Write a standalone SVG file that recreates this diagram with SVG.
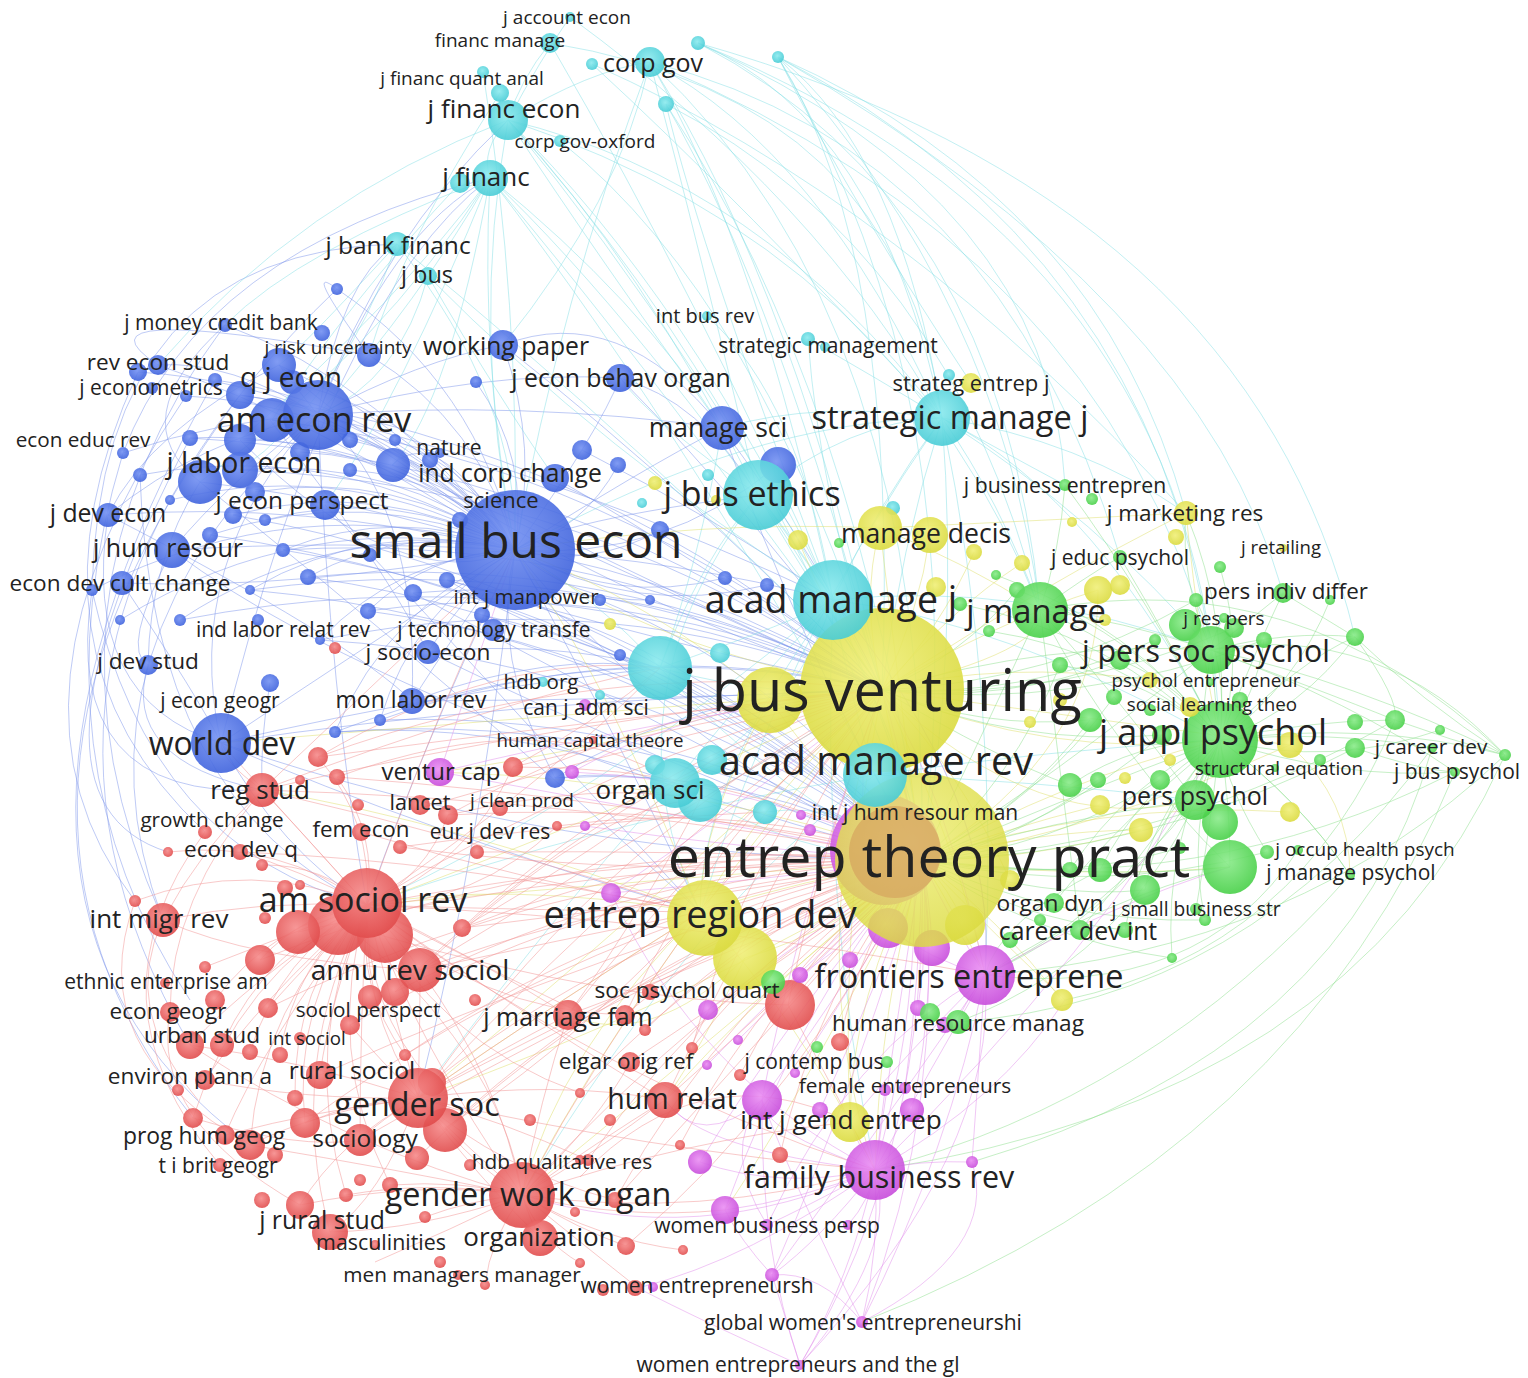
<svg xmlns="http://www.w3.org/2000/svg" width="1528" height="1378" viewBox="0 0 1528 1378">
<defs>
<radialGradient id="gb" cx="45%" cy="40%" r="62%"><stop offset="0" stop-color="#7391f2"/><stop offset="1" stop-color="#3d61dc"/></radialGradient>
<radialGradient id="gc" cx="45%" cy="40%" r="62%"><stop offset="0" stop-color="#8beaee"/><stop offset="1" stop-color="#46cbd5"/></radialGradient>
<radialGradient id="gy" cx="45%" cy="40%" r="62%"><stop offset="0" stop-color="#f0ef78"/><stop offset="1" stop-color="#dada3e"/></radialGradient>
<radialGradient id="gg" cx="45%" cy="40%" r="62%"><stop offset="0" stop-color="#8aeb8a"/><stop offset="1" stop-color="#46cf46"/></radialGradient>
<radialGradient id="gr" cx="45%" cy="40%" r="62%"><stop offset="0" stop-color="#f68b8b"/><stop offset="1" stop-color="#e04a4a"/></radialGradient>
<radialGradient id="gm" cx="45%" cy="40%" r="62%"><stop offset="0" stop-color="#ea8ef3"/><stop offset="1" stop-color="#c64ada"/></radialGradient>
</defs>
<style>
.b{fill:url(#gb)}.c{fill:url(#gc)}.y{fill:url(#gy)}.g{fill:url(#gg)}.r{fill:url(#gr)}.m{fill:url(#gm)}
circle{opacity:.9}
.t{font-family:'Open Sans','Liberation Sans',sans-serif;fill:#222;text-anchor:middle;transform:translate(0,2px)}
.e{fill:none;stroke-width:1;stroke-opacity:.5}
.eb{stroke:#7d96ec}.ec{stroke:#86dfe6}.ey{stroke:#e0e06c}.eg{stroke:#8ddf8d}.er{stroke:#f19393}.em{stroke:#e18feb}
</style>
<rect width="1528" height="1378" fill="#fff"/>
<g id="connectors">
<path class="e eb" d="M515 550Q410 460 318 415M515 550Q360 500 200 482M515 550Q360 650 221 743M515 550Q420 430 279 365M515 550Q540 450 503 345M515 550Q600 430 620 378M515 550Q640 470 722 428M515 550Q700 580 882 690M515 550Q680 760 922 860M515 550Q680 560 833 600M515 550Q420 750 367 905M515 550Q300 500 108 515M515 550Q300 590 122 583M515 550Q330 540 172 550M515 550Q380 380 225 325M515 550Q320 420 158 365M515 550Q450 640 412 701M515 550Q460 600 428 652M515 550Q630 760 700 912M515 550Q480 850 418 1098M515 550Q560 520 758 495M515 550Q440 420 392 465"/>
<path class="e eb" d="M318 415Q180 560 221 743M318 415Q200 440 108 515M318 415Q230 480 172 550M318 415Q290 380 279 365M318 415Q230 360 158 365M318 415Q420 360 503 345M318 415Q390 230 490 178M318 415Q340 280 397 244M318 415Q220 420 123 453M318 415Q480 370 620 378M318 415Q520 400 722 428M318 415Q580 480 833 600M318 415Q600 560 882 690M318 415Q330 700 367 905M318 415Q60 650 163 920M318 415Q420 500 412 701M318 415Q380 240 508 120"/>
<path class="e eb" d="M225 325Q20 600 163 920M138 372Q10 650 205 832M123 453Q30 760 190 1000M337 289Q-40 650 190 1045M158 365Q60 300 369 355M92 590Q60 800 262 790M108 515Q80 700 221 743M148 665Q120 760 262 790M122 583Q200 700 221 743M172 550Q120 650 148 665M200 482Q150 560 148 665M225 325Q120 420 200 482M279 365Q150 430 108 515M369 355Q300 260 337 289M270 683Q260 740 262 790M221 743Q280 850 367 905M221 743Q420 830 700 912M221 743Q500 700 882 690M221 743Q560 860 922 860M221 743Q330 300 490 178M186 396Q-20 700 135 901M190 438Q0 800 168 852M240 395Q-60 800 193 1118M215 380Q-80 900 250 1145M140 475Q150 800 367 905M92 590Q150 850 367 905M92 590Q100 250 397 244M123 453Q200 250 490 178"/>
<path class="e eb" d="M392 465Q600 560 882 690M555 478Q700 560 882 690M582 450Q720 520 833 600M413 593Q650 720 922 860M447 580Q650 640 882 690M428 652Q650 760 922 860M412 701Q650 700 882 690M503 345Q700 500 882 690M620 378Q760 520 882 690M722 428Q820 560 882 690M722 428Q800 650 922 860M200 482Q450 680 700 912M620 378Q700 400 758 495M503 345Q620 300 722 428M240 440Q400 600 515 550M270 420Q380 560 428 652M325 505Q450 640 700 912M172 550Q400 720 922 860M108 515Q350 640 412 701M279 365Q500 560 882 690M412 701Q550 650 660 668M428 652Q550 640 660 668M335 732Q500 720 675 783M555 778Q620 770 675 783M221 743Q450 690 660 668M447 580Q550 640 660 668"/>
<path class="e eb" d="M337 289Q478 384 515 550M369 355Q481 423 515 550M138 372Q363 386 515 550M186 396Q382 407 515 550M240 395Q409 418 515 550M292 382Q438 421 515 550M272 420Q420 436 515 550M240 440Q400 440 515 550M190 438Q375 429 515 550M140 475Q343 438 515 550M240 470Q394 455 515 550M255 492Q397 469 515 550M233 515Q381 477 515 550M210 535Q366 482 515 550M92 590Q296 485 515 550M283 550Q399 504 515 550M308 577Q406 523 515 550M368 611Q430 552 515 550M320 640Q400 556 515 550M335 732Q389 605 515 550M250 590Q375 517 515 550M120 620Q304 506 515 550M180 620Q334 518 515 550M380 720Q414 608 515 550M265 520Q396 485 515 550M170 500Q353 456 515 550M215 380Q399 405 515 550M300 452Q428 458 515 550M350 440Q455 462 515 550M350 470Q449 477 515 550M395 440Q477 471 515 550M476 382Q530 458 515 550M618 465Q584 529 515 550M660 530Q592 569 515 550M650 600Q573 602 515 550M620 655Q547 624 515 550M725 578Q614 606 515 550M767 585Q634 618 515 550M778 465Q664 561 515 550M555 778Q489 656 515 550"/>
<path class="e eb" d="M240 395Q605 447 882 690M272 420Q618 464 882 690M240 470Q594 484 882 690M190 438Q574 460 882 690M283 550Q604 530 882 690M308 577Q612 548 882 690M368 611Q637 574 882 690M413 593Q662 572 882 690M320 640Q609 581 882 690M250 590Q581 545 882 690M180 620Q542 550 882 690M380 720Q627 630 882 690M335 732Q603 629 882 690M555 778Q706 685 882 690M283 550Q649 609 922 860M308 577Q657 627 922 860M368 611Q682 653 922 860M320 640Q654 660 922 860M380 720Q672 709 922 860M335 732Q648 708 922 860M250 590Q627 624 922 860M210 535Q615 591 922 860M233 515Q630 585 922 860M555 778Q751 764 922 860M447 580Q727 649 922 860M482 615Q739 672 922 860M620 655Q802 713 922 860M600 600Q800 682 922 860"/>
<path class="e ec" d="M508 120Q470 330 515 550M508 120Q760 180 942 418M508 120Q690 300 833 600M508 120Q700 350 882 690M508 120Q780 420 922 860M508 120Q640 260 758 495M508 120Q600 260 722 428M508 120Q590 70 650 62M508 120Q480 150 490 178M508 120Q520 80 550 43M508 120Q540 60 570 17M650 62Q820 150 942 418M650 62Q760 250 833 600M650 62Q800 300 882 690M650 62Q930 320 922 860M650 62Q560 300 515 550M650 62Q700 250 758 495M650 62Q620 200 503 345M698 43Q880 120 942 418M698 43Q1000 200 1040 610M698 43Q1200 250 1220 740M778 57Q900 150 942 418M778 57Q1150 250 1211 650M778 57Q900 250 882 690M778 57Q1000 300 1040 610M778 57Q980 400 922 860M666 104Q780 300 882 690M666 104Q860 400 922 860M666 104Q700 250 833 600"/>
<path class="e ec" d="M490 178Q480 360 515 550M490 178Q640 300 722 428M490 178Q640 320 833 600M490 178Q660 380 882 690M490 178Q700 450 922 860M490 178Q420 300 318 415M397 244Q520 400 515 550M397 244Q650 450 882 690M428 276Q600 450 833 600M560 141Q760 300 882 690M592 64Q740 200 942 418M707 316Q800 400 833 600M808 339Q880 380 942 418M808 339Q820 500 882 690M550 43Q700 300 833 600M570 17Q820 200 942 418M483 72Q520 300 515 550M778 57Q1100 200 1186 513M778 57Q1200 300 1283 593M698 43Q1050 200 1065 485M650 62Q1000 150 1120 557M698 43Q1250 200 1355 637M778 57Q850 200 971 383M666 104Q950 250 1040 610M592 64Q900 200 1186 513M550 43Q900 100 942 418M650 62Q1100 250 1211 650M508 120Q900 250 1040 610M490 178Q400 300 240 440M490 178Q380 350 200 482M490 178Q400 400 325 505M490 178Q450 400 393 465M397 244Q300 350 279 365M397 244Q340 400 240 470M428 276Q400 380 318 415M428 276Q500 400 555 478M490 178Q300 250 225 325M508 120Q300 200 158 365M460 183Q350 300 272 420M500 93Q400 250 369 355"/>
<path class="e ec" d="M942 418Q880 500 833 600M942 418Q900 550 882 690M942 418Q960 650 922 860M942 418Q1000 500 1040 610M942 418Q1100 500 1220 740M942 418Q1100 520 1211 650M942 418Q850 420 758 495M942 418Q820 400 722 428M942 418Q750 420 515 550M942 418Q1080 440 1186 513M942 418Q1000 450 1065 485M942 418Q780 650 700 912M942 418Q1000 700 985 975M833 600Q1000 620 1220 740M833 600Q1020 580 1211 650M833 600Q850 700 875 775M833 600Q900 750 922 860M833 600Q1000 800 985 975M833 600Q780 520 758 495M833 600Q740 700 675 783M833 600Q820 900 875 1170M833 600Q700 780 700 912M833 600Q600 800 367 905M758 495Q820 600 882 690M758 495Q900 700 922 860M758 495Q600 700 700 912M875 775Q1050 750 1220 740M875 775Q1030 780 1195 800M875 775Q900 820 922 860M875 775Q700 900 522 1195M875 775Q600 820 367 905M660 668Q780 700 882 690M660 668Q780 800 922 860M675 783Q800 860 922 860M675 783Q580 880 418 1098M700 800Q800 740 882 690M758 495Q650 420 620 378M758 495Q700 560 660 668M722 428Q700 560 660 668M660 668Q600 600 515 550M660 668Q800 620 833 600M712 760Q800 700 833 600M765 812Q850 800 922 860"/>
<path class="e ey" d="M882 690Q900 780 922 860M882 690Q860 600 880 528M882 690Q760 800 700 912M882 690Q1050 580 1186 513M882 690Q1000 620 1098 590M882 690Q1100 720 1290 745M882 690Q960 850 985 975M882 690Q840 900 850 1122M882 690Q800 950 875 1170M882 690Q600 820 367 905M882 690Q600 950 418 1098M882 690Q500 720 221 743M882 690Q650 650 515 550M882 690Q650 950 522 1195M882 690Q1050 650 1040 610M882 690Q1050 760 1220 740M882 690Q1040 840 1195 800M930 535Q920 610 882 690M798 540Q830 620 882 690M974 552Q940 630 882 690M1022 563Q950 610 882 690M1010 880Q960 770 882 690M1150 680Q1000 660 882 690M770 700Q700 820 700 912M770 700Q650 600 515 550M770 700Q600 750 440 772M745 958Q650 1050 568 1015M745 958Q700 1050 665 1100"/>
<path class="e ey" d="M922 860Q800 880 700 912M922 860Q960 920 985 975M922 860Q880 1000 875 1170M922 860Q850 1000 850 1122M922 860Q700 1050 522 1195M922 860Q650 880 367 905M922 860Q750 1000 665 1100M922 860Q1000 940 1065 1000M922 860Q1100 800 1290 812M922 860Q1040 830 1141 830M922 860Q1060 780 1220 740M922 860Q800 1100 725 1210M922 860Q700 1000 418 1098M922 860Q1080 880 1230 867M922 860Q700 780 440 772M700 912Q500 880 367 905M700 912Q450 820 262 790M700 912Q560 1000 418 1098M700 912Q620 700 515 550M700 912Q560 1050 522 1195M700 912Q800 1020 875 1170M880 528Q960 560 1040 610M880 528Q1050 520 1186 513M880 528Q700 520 515 550M880 528Q900 700 922 860M1186 513Q1200 650 1220 740M1098 590Q1100 750 922 860M1290 745Q1350 800 1350 875M1141 830Q1030 860 922 860M1100 805Q1000 830 922 860M1290 745Q1100 830 922 860M1062 1000Q1000 920 922 860M965 925Q950 890 922 860M745 958Q840 930 922 860M770 700Q840 800 922 860"/>
<path class="e eg" d="M1220 740Q1215 700 1211 650M1220 740Q1140 650 1040 610M1220 740Q1060 800 922 860M1220 740Q1200 780 1195 800M1220 740Q1370 720 1505 755M1220 740Q1330 730 1432 748M1220 740Q1340 780 1455 772M1220 740Q1300 660 1355 637M1220 740Q1310 720 1395 720M1220 740Q1230 800 1230 867M1220 740Q1300 800 1350 875M1220 740Q1260 640 1283 593M1220 740Q1230 620 1186 513M1220 740Q1170 640 1120 557M1220 740Q1150 600 1065 485M1220 740Q1150 900 985 975M1220 740Q1150 850 1080 930M1220 740Q1120 820 1054 903M1220 740Q1210 830 1196 909M1220 740Q1150 950 958 1022"/>
<path class="e eg" d="M1211 650Q1120 620 1040 610M1211 650Q1050 640 882 690M1211 650Q1050 780 922 860M1211 650Q1250 620 1283 593M1211 650Q1290 630 1355 637M1211 650Q1215 630 1224 618M1211 650Q1200 730 1195 800M1211 650Q1180 580 1186 513M1211 650Q1350 680 1505 755M1211 650Q1320 690 1395 720M1040 610Q1120 700 1195 800M1040 610Q1120 760 1230 867M1040 610Q1060 770 1080 930M1040 610Q980 740 922 860M1040 610Q1060 550 1065 485M1040 610Q1080 580 1120 557M1505 755Q1300 560 1040 610M1505 755Q1300 950 985 975M1505 755Q1380 620 1211 650M1455 772Q1200 900 922 860M1455 772Q1350 700 1211 650M1395 720Q1300 950 1065 1000M1432 748Q1250 1000 958 1022M1350 875Q1150 1100 875 1170M1350 875Q1300 800 1220 740M1355 637Q1420 700 1505 755M1355 637Q1400 700 1395 720M1283 593Q1360 640 1355 637M1230 867Q1100 900 985 975M1230 867Q1120 880 922 860M1195 800Q1050 820 922 860M1195 800Q1100 920 985 975M1145 890Q1050 900 922 860M1100 870Q1000 920 985 975M1070 785Q1000 760 882 690M1098 780Q1000 850 922 860M1355 748Q1420 770 1455 772M1395 720Q1450 740 1505 755M1505 755Q1350 1100 875 1170M1455 772Q1300 1150 862 1322M1432 748Q1350 1050 972 1162M1298 850Q1200 1000 985 975"/>
<path class="e eg" d="M1017 590Q1141 635 1220 740M960 604Q1110 633 1220 740M989 631Q1121 651 1220 740M1196 600Q1229 666 1220 740M1220 567Q1246 654 1220 740M1355 637Q1303 709 1220 740M1264 640Q1257 697 1220 740M1145 890Q1160 804 1220 740M1100 870Q1141 787 1220 740M1070 785Q1138 740 1220 740M1205 920Q1186 828 1220 740M1172 958Q1163 842 1220 740M1267 852Q1227 789 1220 740M1120 660Q1182 685 1220 740M1070 870Q1126 783 1220 740M1125 930Q1144 821 1220 740M1330 600Q1296 686 1220 740M1440 730Q1332 768 1220 740M1060 665Q1151 679 1220 740M996 575Q1133 624 1220 740M1205 920Q1057 924 922 860M1172 958Q1035 939 922 860M1125 930Q1016 919 922 860M1267 852Q1096 897 922 860M1180 848Q1052 885 922 860M1160 780Q1051 849 922 860M1090 720Q1023 810 922 860M1060 665Q1014 780 922 860M1114 697Q1038 802 922 860M1162 735Q1057 827 922 860M1355 748Q1152 856 922 860M1395 720Q1176 847 922 860M1017 590Q962 656 882 690M1090 720Q982 730 882 690M1120 660Q1005 704 882 690M1155 640Q1025 698 882 690M1196 600Q1050 683 882 690M1234 628Q1065 701 882 690M1264 640Q1079 711 882 690M1162 735Q1017 747 882 690"/>
<path class="e em" d="M875 1170Q930 1070 985 975M875 1170Q900 1000 922 860M875 1170Q860 1150 850 1122M875 1170Q800 1210 767 1225M875 1170Q820 1240 772 1275M875 1170Q880 1250 862 1322M875 1170Q850 1280 800 1365M875 1170Q920 1160 972 1162M875 1170Q950 900 882 690M875 1170Q800 1200 725 1210M875 1170Q760 1130 762 1100M875 1170Q700 1150 665 1100M875 1170Q700 1250 522 1195M875 1170Q1000 1100 1065 1000M875 1170Q1100 950 1220 740M875 1170Q750 1260 638 1288M862 1322Q800 1200 762 1100M862 1322Q950 1150 985 975M862 1322Q950 1100 922 860M862 1322Q1000 1250 972 1162M862 1322Q820 1270 772 1275M800 1365Q900 1250 875 1170M800 1365Q760 1250 762 1100M800 1365Q930 1150 922 860M800 1365Q1000 1150 985 975M800 1365Q780 1300 772 1275M800 1365Q700 1320 638 1288M772 1275Q870 1050 922 860M772 1275Q900 1100 985 975M772 1275Q740 1240 725 1210M767 1225Q720 1150 762 1100"/>
<path class="e em" d="M985 975Q950 920 922 860M985 975Q950 800 882 690M985 975Q1000 800 833 600M985 975Q1120 900 1230 867M985 975Q930 960 888 928M985 975Q960 1010 958 1022M985 975Q900 1060 850 1122M888 928Q900 890 922 860M888 928Q840 800 882 690M932 948Q930 900 922 860M762 1100Q850 980 922 860M762 1100Q700 1150 665 1100M762 1100Q800 900 882 690M440 772Q700 820 922 860M440 772Q650 720 882 690M440 772Q480 650 515 550M611 893Q760 880 922 860M708 1010Q800 940 922 860M725 1210Q800 1000 922 860M700 1162Q800 1000 922 860M972 1162Q980 1050 985 975M905 1088Q920 980 922 860M767 1225Q850 1050 985 975M611 893Q700 1080 875 1170M800 975Q870 930 922 860M918 1008Q930 930 922 860M912 1110Q940 980 922 860M820 1110Q880 980 922 860M700 1162Q780 1190 875 1170M885 1090Q880 1130 875 1170M848 1225Q870 1200 875 1170M707 1065Q820 950 922 860M738 1040Q840 940 922 860M795 1073Q870 960 922 860M611 893Q750 800 882 690M572 772Q750 780 922 860M585 826Q750 850 922 860M572 772Q700 700 882 690"/>
<path class="e er" d="M367 905Q390 1000 418 1098M367 905Q400 940 420 970M367 905Q420 1050 522 1195M367 905Q260 900 163 920M367 905Q300 830 262 790M367 905Q300 870 240 852M367 905Q650 850 922 860M367 905Q600 760 882 690M367 905Q520 910 700 912M367 905Q500 1000 665 1100M367 905Q480 960 568 1015M367 905Q600 1080 875 1170M367 905Q700 920 985 975M367 905Q250 980 190 1045M367 905Q260 1050 225 1135M367 905Q360 1020 360 1140M367 905Q330 1000 320 1075M367 905Q260 1000 205 1080M367 905Q290 820 221 743M367 905Q440 700 515 550M418 1098Q470 1150 522 1195M418 1098Q480 1180 540 1238M418 1098Q340 1140 300 1205M418 1098Q560 1080 665 1100M418 1098Q420 1030 420 970M418 1098Q320 1110 250 1145M418 1098Q300 1100 205 1080M418 1098Q700 950 922 860M418 1098Q650 850 882 690M418 1098Q650 1150 875 1170M418 1098Q500 1050 568 1015M418 1098Q560 1000 700 912M418 1098Q380 1120 360 1140"/>
<path class="e er" d="M522 1195Q530 1220 540 1238M522 1195Q600 1140 665 1100M522 1195Q700 1220 875 1170M522 1195Q680 1140 850 1122M522 1195Q590 1250 638 1288M522 1195Q490 1240 485 1285M522 1195Q420 1230 330 1232M522 1195Q620 1220 725 1210M522 1195Q600 1050 700 912M522 1195Q700 1000 922 860M522 1195Q540 1100 568 1015M522 1195Q450 1230 375 1262M522 1195Q600 1120 630 1062M262 790Q221 760 221 743M262 790Q480 840 700 912M262 790Q400 660 515 550M262 790Q200 850 163 920M262 790Q170 900 170 1012M262 790Q600 800 922 860M262 790Q560 720 882 690M163 920Q120 1010 198 1100M135 901Q80 1050 250 1145M170 1012Q150 1120 300 1205M205 832Q80 1000 220 1165M163 920Q250 960 420 970M190 1045Q300 1060 418 1098M225 1135Q320 1110 418 1098M300 1205Q420 1180 522 1195M330 1232Q380 1200 418 1098"/>
<path class="e er" d="M420 970Q600 900 922 860M420 970Q650 830 882 690M420 970Q560 940 700 912M420 970Q500 1080 522 1195M568 1015Q750 950 922 860M568 1015Q700 850 882 690M665 1100Q800 980 922 860M665 1100Q760 900 882 690M665 1100Q600 1150 522 1195M788 1005Q850 930 922 860M788 1005Q820 850 882 690M788 1005Q840 1100 875 1170M630 1062Q800 950 922 860M575 1010Q450 950 367 905M448 815Q700 800 922 860M420 808Q650 740 882 690M477 852Q700 850 922 860M513 767Q700 720 882 690M400 847Q650 880 922 860M318 757Q600 720 882 690M337 777Q650 800 922 860M462 928Q700 900 922 860M615 1200Q750 1050 922 860M626 1246Q800 1100 922 860M580 1177Q700 1050 850 1122M361 832Q520 880 700 912M240 852Q450 860 700 912M298 932Q600 860 922 860M340 920Q500 1050 522 1195M190 1045Q350 1150 522 1195M250 1145Q400 1170 522 1195M360 1140Q600 1000 922 860M320 1075Q600 950 922 860M205 967Q300 930 367 905M268 1008Q320 950 367 905M350 1025Q380 1060 418 1098M445 1128Q480 1170 522 1195M305 1123Q360 1100 418 1098M193 1118Q300 1150 360 1140M380 935Q600 1000 788 1005M445 1128Q650 1000 882 690"/>
<path class="e er" d="M168 852Q279 839 367 905M262 865Q323 864 367 905M135 901Q252 857 367 905M260 960Q303 912 367 905M215 1000Q272 923 367 905M222 1045Q267 946 367 905M250 1052Q280 956 367 905M280 1055Q294 963 367 905M405 1055Q356 988 367 905M432 1082Q365 1007 367 905M445 1130Q361 1034 367 905M305 1123Q292 1002 367 905M193 1118Q237 977 367 905M250 1145Q261 1002 367 905M295 1098Q292 988 367 905M318 757Q373 821 367 905M337 777Q378 835 367 905M448 815Q426 876 367 905M513 767Q468 865 367 905M557 826Q478 904 367 905M580 1093Q436 1042 367 905M625 1015Q474 1012 367 905M346 1195Q299 1046 367 905M390 1185Q323 1050 367 905M330 1232Q284 1062 367 905M318 757Q500 650 660 668M337 777Q550 700 675 783M448 815Q600 780 700 800M400 847Q600 820 765 812M462 928Q600 850 712 760M367 905Q550 780 660 668M420 970Q600 800 700 800M262 790Q500 700 660 668M568 1015Q650 900 700 800M513 767Q600 720 660 668"/>
<path class="e er" d="M395 992Q643 863 922 860M462 928Q684 839 922 860M350 1025Q616 874 922 860M405 1055Q641 896 922 860M432 1082Q650 912 922 860M445 1130Q652 938 922 860M580 1093Q723 936 922 860M625 1015Q755 902 922 860M645 1030Q764 912 922 860M692 1048Q784 926 922 860M588 1160Q719 970 922 860M680 1145Q767 974 922 860M740 1075Q805 946 922 860M840 1042Q859 941 922 860M780 1155Q816 991 922 860M557 826Q744 799 922 860M513 767Q729 765 922 860M268 1008Q577 856 922 860M305 1123Q582 918 922 860M260 960Q579 831 922 860M417 1158Q634 948 922 860M615 1200Q728 993 922 860M395 992Q603 783 882 690M318 757Q592 656 882 690M448 815Q650 701 882 690M462 928Q643 759 882 690M432 1082Q610 832 882 690M625 1015Q715 822 882 690M692 1048Q744 846 882 690M626 1246Q580 1230 522 1195M580 1263Q540 1240 522 1195M683 1250Q600 1240 522 1195M425 1217Q470 1200 522 1195M346 1195Q430 1180 522 1195M390 1185Q460 1180 522 1195M615 1200Q500 1170 418 1098M588 1160Q500 1120 418 1098"/>
</g>
<g id="minor-nodes">
<circle id="u1" class="c" cx="500" cy="93" r="9"/><circle id="u2" class="c" cx="592" cy="64" r="6"/><circle id="u3" class="c" cx="698" cy="43" r="7"/><circle id="u4" class="c" cx="778" cy="57" r="6"/><circle id="u5" class="c" cx="666" cy="104" r="8"/><circle id="u6" class="c" cx="460" cy="183" r="10"/><circle id="u7" class="c" cx="825" cy="347" r="5"/><circle id="u8" class="c" cx="949" cy="375" r="6"/><circle id="u9" class="c" cx="893" cy="508" r="7"/><circle id="u10" class="c" cx="708" cy="475" r="6"/><circle id="u11" class="c" cx="660" cy="668" r="32"/><circle id="u12" class="c" cx="720" cy="653" r="10"/><circle id="u13" class="c" cx="655" cy="765" r="10"/><circle id="u14" class="c" cx="700" cy="800" r="22"/><circle id="u15" class="c" cx="712" cy="760" r="15"/><circle id="u16" class="c" cx="765" cy="812" r="12"/><circle id="u17" class="c" cx="600" cy="695" r="5"/><circle id="u18" class="c" cx="642" cy="503" r="5"/>
<circle id="u20" class="b" cx="337" cy="289" r="6"/><circle id="u21" class="b" cx="369" cy="355" r="12"/><circle id="u22" class="b" cx="138" cy="372" r="9"/><circle id="u23" class="b" cx="186" cy="396" r="6"/><circle id="u24" class="b" cx="240" cy="395" r="14"/><circle id="u25" class="b" cx="292" cy="382" r="12"/><circle id="u26" class="b" cx="272" cy="420" r="22"/><circle id="u27" class="b" cx="240" cy="440" r="16"/><circle id="u28" class="b" cx="190" cy="438" r="8"/><circle id="u29" class="b" cx="140" cy="475" r="7"/><circle id="u30" class="b" cx="240" cy="470" r="18"/><circle id="u31" class="b" cx="255" cy="492" r="10"/><circle id="u32" class="b" cx="430" cy="460" r="8"/><circle id="u33" class="b" cx="476" cy="382" r="6"/><circle id="u34" class="b" cx="555" cy="478" r="14"/><circle id="u35" class="b" cx="582" cy="450" r="10"/><circle id="u36" class="b" cx="618" cy="465" r="8"/><circle id="u37" class="b" cx="660" cy="530" r="9"/><circle id="u38" class="b" cx="725" cy="578" r="7"/><circle id="u39" class="b" cx="767" cy="585" r="7"/><circle id="u40" class="b" cx="778" cy="465" r="18"/><circle id="u41" class="b" cx="233" cy="515" r="9"/><circle id="u42" class="b" cx="210" cy="535" r="8"/><circle id="u43" class="b" cx="92" cy="590" r="6"/><circle id="u44" class="b" cx="283" cy="550" r="7"/><circle id="u45" class="b" cx="308" cy="577" r="8"/><circle id="u46" class="b" cx="370" cy="555" r="7"/><circle id="u47" class="b" cx="413" cy="593" r="9"/><circle id="u48" class="b" cx="447" cy="580" r="8"/><circle id="u49" class="b" cx="368" cy="611" r="8"/><circle id="u50" class="b" cx="320" cy="640" r="5"/><circle id="u51" class="b" cx="335" cy="732" r="6"/><circle id="u52" class="b" cx="555" cy="778" r="10"/><circle id="u53" class="b" cx="482" cy="615" r="8"/><circle id="u54" class="b" cx="215" cy="380" r="7"/><circle id="u55" class="b" cx="300" cy="452" r="10"/><circle id="u56" class="b" cx="350" cy="440" r="8"/><circle id="u57" class="b" cx="265" cy="520" r="6"/><circle id="u58" class="b" cx="170" cy="500" r="5"/><circle id="u59" class="b" cx="650" cy="600" r="5"/><circle id="u60" class="b" cx="620" cy="655" r="6"/><circle id="u61" class="b" cx="350" cy="470" r="7"/><circle id="u62" class="b" cx="460" cy="520" r="8"/><circle id="u63" class="b" cx="250" cy="590" r="5"/><circle id="u64" class="b" cx="120" cy="620" r="5"/><circle id="u65" class="b" cx="180" cy="620" r="6"/><circle id="u66" class="b" cx="380" cy="720" r="6"/><circle id="u67" class="b" cx="600" cy="600" r="6"/><circle id="u68" class="b" cx="395" cy="440" r="6"/>
<circle id="u70" class="r" cx="335" cy="648" r="6"/><circle id="u71" class="r" cx="318" cy="757" r="10"/><circle id="u72" class="r" cx="337" cy="777" r="8"/><circle id="u73" class="r" cx="168" cy="852" r="5"/><circle id="u74" class="r" cx="262" cy="865" r="6"/><circle id="u75" class="r" cx="400" cy="847" r="7"/><circle id="u76" class="r" cx="448" cy="815" r="10"/><circle id="u77" class="r" cx="513" cy="767" r="10"/><circle id="u78" class="r" cx="557" cy="826" r="5"/><circle id="u79" class="r" cx="338" cy="925" r="30"/><circle id="u80" class="r" cx="298" cy="932" r="22"/><circle id="u81" class="r" cx="385" cy="935" r="28"/><circle id="u82" class="r" cx="300" cy="885" r="5"/><circle id="u83" class="r" cx="285" cy="888" r="8"/><circle id="u84" class="r" cx="265" cy="918" r="6"/><circle id="u85" class="r" cx="135" cy="901" r="6"/><circle id="u86" class="r" cx="260" cy="960" r="15"/><circle id="u87" class="r" cx="205" cy="967" r="6"/><circle id="u88" class="r" cx="215" cy="1000" r="10"/><circle id="u89" class="r" cx="268" cy="1008" r="10"/><circle id="u90" class="r" cx="395" cy="992" r="14"/><circle id="u91" class="r" cx="462" cy="928" r="9"/><circle id="u92" class="r" cx="350" cy="1025" r="10"/><circle id="u93" class="r" cx="222" cy="1045" r="12"/><circle id="u94" class="r" cx="250" cy="1052" r="8"/><circle id="u95" class="r" cx="280" cy="1055" r="8"/><circle id="u96" class="r" cx="405" cy="1055" r="6"/><circle id="u97" class="r" cx="432" cy="1082" r="14"/><circle id="u98" class="r" cx="445" cy="1130" r="22"/><circle id="u99" class="r" cx="417" cy="1158" r="12"/><circle id="u100" class="r" cx="305" cy="1123" r="15"/><circle id="u101" class="r" cx="193" cy="1118" r="10"/><circle id="u102" class="r" cx="250" cy="1145" r="15"/><circle id="u103" class="r" cx="275" cy="1155" r="8"/><circle id="u104" class="r" cx="295" cy="1098" r="8"/><circle id="u105" class="r" cx="580" cy="1093" r="5"/><circle id="u106" class="r" cx="625" cy="1015" r="10"/><circle id="u107" class="r" cx="645" cy="1030" r="6"/><circle id="u108" class="r" cx="692" cy="1048" r="6"/><circle id="u109" class="r" cx="330" cy="1232" r="18"/><circle id="u110" class="r" cx="346" cy="1195" r="7"/><circle id="u111" class="r" cx="390" cy="1185" r="8"/><circle id="u112" class="r" cx="425" cy="1217" r="6"/><circle id="u113" class="r" cx="485" cy="1285" r="5"/><circle id="u114" class="r" cx="626" cy="1246" r="9"/><circle id="u115" class="r" cx="580" cy="1263" r="5"/><circle id="u116" class="r" cx="683" cy="1250" r="5"/><circle id="u117" class="r" cx="615" cy="1200" r="8"/><circle id="u118" class="r" cx="588" cy="1160" r="6"/><circle id="u119" class="r" cx="790" cy="1005" r="25"/><circle id="u120" class="r" cx="840" cy="1042" r="9"/><circle id="u121" class="r" cx="680" cy="1145" r="5"/><circle id="u122" class="r" cx="780" cy="1155" r="8"/><circle id="u123" class="r" cx="740" cy="1075" r="6"/><circle id="u124" class="r" cx="358" cy="805" r="6"/><circle id="u125" class="r" cx="300" cy="780" r="5"/><circle id="u126" class="r" cx="610" cy="1120" r="6"/><circle id="u127" class="r" cx="475" cy="1000" r="6"/><circle id="u128" class="r" cx="530" cy="1120" r="6"/><circle id="u129" class="r" cx="360" cy="1180" r="6"/><circle id="u130" class="r" cx="440" cy="1262" r="6"/><circle id="u131" class="r" cx="262" cy="1200" r="8"/><circle id="u132" class="r" cx="178" cy="1090" r="6"/><circle id="u133" class="r" cx="603" cy="1290" r="6"/><circle id="u134" class="r" cx="575" cy="1212" r="5"/><circle id="u135" class="r" cx="470" cy="1165" r="6"/>
<circle id="u140" class="m" cx="885" cy="850" r="55"/><circle id="u141" class="m" cx="572" cy="772" r="7"/><circle id="u142" class="m" cx="585" cy="826" r="5"/><circle id="u143" class="m" cx="611" cy="893" r="10"/><circle id="u144" class="m" cx="800" cy="975" r="8"/><circle id="u145" class="m" cx="888" cy="928" r="20"/><circle id="u146" class="m" cx="932" cy="948" r="18"/><circle id="u147" class="m" cx="918" cy="1008" r="8"/><circle id="u148" class="m" cx="762" cy="1100" r="20"/><circle id="u149" class="m" cx="820" cy="1110" r="8"/><circle id="u150" class="m" cx="885" cy="1090" r="6"/><circle id="u151" class="m" cx="912" cy="1110" r="12"/><circle id="u152" class="m" cx="972" cy="1162" r="6"/><circle id="u153" class="m" cx="700" cy="1162" r="12"/><circle id="u154" class="m" cx="725" cy="1210" r="14"/><circle id="u155" class="m" cx="848" cy="1225" r="5"/><circle id="u156" class="m" cx="772" cy="1275" r="7"/><circle id="u157" class="m" cx="708" cy="1010" r="10"/><circle id="u158" class="m" cx="707" cy="1065" r="5"/><circle id="u159" class="m" cx="738" cy="1040" r="5"/><circle id="u160" class="m" cx="795" cy="1073" r="5"/><circle id="u161" class="m" cx="653" cy="1287" r="5"/><circle id="u162" class="m" cx="810" cy="830" r="6"/><circle id="u163" class="m" cx="850" cy="960" r="8"/><circle id="u164" class="m" cx="945" cy="1025" r="8"/>
<circle id="u170" class="y" cx="770" cy="700" r="33"/><circle id="u171" class="y" cx="745" cy="958" r="32"/><circle id="u172" class="y" cx="930" cy="535" r="18"/><circle id="u173" class="y" cx="798" cy="540" r="10"/><circle id="u174" class="y" cx="974" cy="552" r="8"/><circle id="u175" class="y" cx="936" cy="587" r="10"/><circle id="u176" class="y" cx="1098" cy="590" r="14"/><circle id="u177" class="y" cx="1120" cy="585" r="10"/><circle id="u178" class="y" cx="1176" cy="537" r="8"/><circle id="u179" class="y" cx="1072" cy="522" r="5"/><circle id="u180" class="y" cx="1141" cy="830" r="12"/><circle id="u181" class="y" cx="1100" cy="805" r="10"/><circle id="u182" class="y" cx="1290" cy="745" r="13"/><circle id="u183" class="y" cx="1290" cy="812" r="10"/><circle id="u184" class="y" cx="1125" cy="778" r="6"/><circle id="u185" class="y" cx="1062" cy="1000" r="11"/><circle id="u186" class="y" cx="965" cy="925" r="20"/><circle id="u187" class="y" cx="610" cy="624" r="6"/><circle id="u188" class="y" cx="655" cy="483" r="7"/><circle id="u189" class="y" cx="716" cy="500" r="5"/><circle id="u190" class="y" cx="1030" cy="722" r="6"/><circle id="u191" class="y" cx="1150" cy="680" r="8"/><circle id="u192" class="y" cx="1010" cy="880" r="10"/><circle id="u193" class="y" cx="1022" cy="563" r="8"/><circle id="u194" class="y" cx="1060" cy="700" r="7"/><circle id="u195" class="y" cx="1170" cy="760" r="6"/><circle id="u196" class="y" cx="1105" cy="620" r="6"/>
<circle id="u200" class="g" cx="1017" cy="590" r="8"/><circle id="u201" class="g" cx="960" cy="604" r="7"/><circle id="u202" class="g" cx="989" cy="631" r="6"/><circle id="u203" class="g" cx="1196" cy="600" r="7"/><circle id="u204" class="g" cx="1220" cy="567" r="6"/><circle id="u205" class="g" cx="1234" cy="628" r="10"/><circle id="u206" class="g" cx="1355" cy="637" r="9"/><circle id="u207" class="g" cx="1264" cy="640" r="8"/><circle id="u208" class="g" cx="1162" cy="735" r="10"/><circle id="u209" class="g" cx="1355" cy="748" r="10"/><circle id="u210" class="g" cx="1395" cy="720" r="10"/><circle id="u211" class="g" cx="1355" cy="722" r="8"/><circle id="u212" class="g" cx="1505" cy="755" r="6"/><circle id="u213" class="g" cx="1220" cy="822" r="18"/><circle id="u214" class="g" cx="1230" cy="867" r="27"/><circle id="u215" class="g" cx="1145" cy="890" r="15"/><circle id="u216" class="g" cx="1100" cy="870" r="12"/><circle id="u217" class="g" cx="1070" cy="785" r="12"/><circle id="u218" class="g" cx="1098" cy="780" r="8"/><circle id="u219" class="g" cx="1205" cy="920" r="6"/><circle id="u220" class="g" cx="1172" cy="958" r="5"/><circle id="u221" class="g" cx="1155" cy="640" r="6"/><circle id="u222" class="g" cx="1114" cy="697" r="8"/><circle id="u223" class="g" cx="1267" cy="852" r="7"/><circle id="u224" class="g" cx="1090" cy="720" r="12"/><circle id="u225" class="g" cx="1120" cy="660" r="10"/><circle id="u226" class="g" cx="773" cy="982" r="12"/><circle id="u227" class="g" cx="930" cy="1013" r="10"/><circle id="u228" class="g" cx="887" cy="1062" r="6"/><circle id="u229" class="g" cx="839" cy="543" r="5"/><circle id="u230" class="g" cx="1092" cy="499" r="6"/><circle id="u231" class="g" cx="1240" cy="700" r="8"/><circle id="u232" class="g" cx="1160" cy="780" r="10"/><circle id="u233" class="g" cx="1070" cy="870" r="8"/><circle id="u234" class="g" cx="1125" cy="930" r="8"/><circle id="u235" class="g" cx="1180" cy="848" r="6"/><circle id="u236" class="g" cx="1320" cy="760" r="6"/><circle id="u237" class="g" cx="1010" cy="940" r="8"/><circle id="u238" class="g" cx="1040" cy="920" r="6"/><circle id="u239" class="g" cx="1330" cy="600" r="5"/><circle id="u240" class="g" cx="1440" cy="730" r="5"/><circle id="u241" class="g" cx="1060" cy="665" r="8"/><circle id="u242" class="g" cx="1150" cy="710" r="6"/><circle id="u243" class="g" cx="996" cy="575" r="5"/><circle id="u244" class="g" cx="1185" cy="625" r="16"/>
</g>
<g id="entrep-theory-pract"><circle class="y" cx="922" cy="860" r="87" style="opacity:.82"/><circle cx="895" cy="852" r="46" fill="#d6a45e" style="opacity:.7"/><text class="t" x="929" y="875" font-size="57.5">entrep theory pract</text></g>
<g id="j-bus-venturing"><circle class="y" cx="882" cy="690" r="82"/><text class="t" x="882" y="709" font-size="57.6">j bus venturing</text></g>
<g id="small-bus-econ"><circle class="b" cx="515" cy="550" r="60"/><text class="t" x="516" y="556" font-size="48">small bus econ</text></g>
<g id="acad-manage-j"><circle class="c" cx="833" cy="600" r="40"/><text class="t" x="831" y="611" font-size="37.5">acad manage j</text></g>
<g id="j-appl-psychol"><circle class="g" cx="1220" cy="740" r="38"/><text class="t" x="1213" y="743" font-size="36">j appl psychol</text></g>
<g id="entrep-region-dev"><circle class="y" cx="705" cy="918" r="38"/><text class="t" x="700" y="926" font-size="37.8">entrep region dev</text></g>
<g id="am-econ-rev"><circle class="b" cx="318" cy="415" r="35"/><text class="t" x="314" y="430" font-size="34">am econ rev</text></g>
<g id="j-bus-ethics"><circle class="c" cx="758" cy="495" r="35"/><text class="t" x="752" y="504" font-size="34">j bus ethics</text></g>
<g id="am-sociol-rev"><circle class="r" cx="367" cy="903" r="35"/><text class="t" x="363" y="910" font-size="34">am sociol rev</text></g>
<g id="gender-work-organ"><circle class="r" cx="522" cy="1195" r="33"/><text class="t" x="528" y="1204" font-size="32.4">gender work organ</text></g>
<g id="acad-manage-rev"><circle class="c" cx="875" cy="775" r="32"/><text class="t" x="876" y="773" font-size="39.5">acad manage rev</text></g>
<g id="world-dev"><circle class="b" cx="221" cy="743" r="30"/><text class="t" x="222" y="753" font-size="32">world dev</text></g>
<g id="gender-soc"><circle class="r" cx="418" cy="1098" r="30"/><text class="t" x="417" y="1114" font-size="32.3">gender soc</text></g>
<g id="frontiers-entreprene"><circle class="m" cx="985" cy="975" r="30"/><text class="t" x="969" y="986" font-size="32.4">frontiers entreprene</text></g>
<g id="family-business-rev"><circle class="m" cx="875" cy="1170" r="30"/><text class="t" x="879" y="1186" font-size="30.4">family business rev</text></g>
<g id="strategic-manage-j"><circle class="c" cx="942" cy="418" r="28"/><text class="t" x="950" y="427" font-size="32.5">strategic manage j</text></g>
<g id="j-manage"><circle class="g" cx="1040" cy="610" r="28"/><text class="t" x="1036" y="621" font-size="32.7">j manage</text></g>
<g id="organ-sci"><circle class="c" cx="675" cy="783" r="25"/><text class="t" x="650" y="797" font-size="26">organ sci</text></g>
<g id="j-pers-soc-psychol"><circle class="g" cx="1211" cy="650" r="24"/><text class="t" x="1206" y="660" font-size="30.3">j pers soc psychol</text></g>
<g id="manage-sci"><circle class="b" cx="722" cy="428" r="22"/><text class="t" x="718" y="435" font-size="26.5">manage sci</text></g>
<g id="j-labor-econ"><circle class="b" cx="200" cy="482" r="22"/><text class="t" x="244" y="471" font-size="28.4">j labor econ</text></g>
<g id="annu-rev-sociol"><circle class="r" cx="420" cy="970" r="22"/><text class="t" x="410" y="978" font-size="28.2">annu rev sociol</text></g>
<g id="manage-decis"><circle class="y" cx="880" cy="528" r="22"/><text class="t" x="926" y="541" font-size="26.6">manage decis</text></g>
<g id="j-financ-econ"><circle class="c" cx="508" cy="120" r="20"/><text class="t" x="504" y="116" font-size="26">j financ econ</text></g>
<g id="int-j-gend-entrep"><circle class="y" cx="850" cy="1122" r="20"/><text class="t" x="841" y="1127" font-size="26.2">int j gend entrep</text></g>
<g id="pers-psychol"><circle class="g" cx="1195" cy="800" r="20"/><text class="t" x="1195" y="803" font-size="25">pers psychol</text></g>
<g id="j-financ"><circle class="c" cx="490" cy="178" r="18"/><text class="t" x="486" y="184" font-size="26">j financ</text></g>
<g id="j-hum-resour"><circle class="b" cx="172" cy="550" r="18"/><text class="t" x="168" y="555" font-size="25">j hum resour</text></g>
<g id="organization"><circle class="r" cx="540" cy="1238" r="18"/><text class="t" x="539" y="1244" font-size="26">organization</text></g>
<g id="hum-relat"><circle class="r" cx="665" cy="1100" r="18"/><text class="t" x="672" y="1107" font-size="28.5">hum relat</text></g>
<g id="sociology"><circle class="r" cx="360" cy="1140" r="16"/><text class="t" x="365" y="1145" font-size="24.5">sociology</text></g>
<g id="q-j-econ"><circle class="b" cx="279" cy="365" r="17"/><text class="t" x="291" y="385" font-size="28">q j econ</text></g>
<g id="ind-corp-change"><circle class="b" cx="393" cy="465" r="17"/><text class="t" x="510" y="480" font-size="24.6">ind corp change</text></g>
<g id="reg-stud"><circle class="r" cx="262" cy="790" r="17"/><text class="t" x="260" y="797" font-size="26">reg stud</text></g>
<g id="int-migr-rev"><circle class="r" cx="163" cy="920" r="17"/><text class="t" x="159" y="926" font-size="26">int migr rev</text></g>
<g id="corp-gov"><circle class="c" cx="650" cy="62" r="15"/><text class="t" x="653" y="70" font-size="25">corp gov</text></g>
<g id="working-paper"><circle class="b" cx="503" cy="345" r="15"/><text class="t" x="506" y="353" font-size="24.7">working paper</text></g>
<g id="j-econ-perspect"><circle class="b" cx="325" cy="505" r="15"/><text class="t" x="302" y="507" font-size="24.4">j econ perspect</text></g>
<g id="j-marriage-fam"><circle class="r" cx="568" cy="1015" r="15"/><text class="t" x="568" y="1024" font-size="24.9">j marriage fam</text></g>
<g id="j-econ-behav-organ"><circle class="b" cx="620" cy="378" r="14"/><text class="t" x="621" y="385" font-size="24.8">j econ behav organ</text></g>
<g id="ventur-cap"><circle class="m" cx="440" cy="772" r="14"/><text class="t" x="441" y="778" font-size="24">ventur cap</text></g>
<g id="urban-stud"><circle class="r" cx="190" cy="1045" r="14"/><text class="t" x="202" y="1041" font-size="22.7">urban stud</text></g>
<g id="rural-sociol"><circle class="r" cx="320" cy="1075" r="14"/><text class="t" x="352" y="1077" font-size="24.5">rural sociol</text></g>
<g id="j-rural-stud"><circle class="r" cx="300" cy="1205" r="14"/><text class="t" x="322" y="1227" font-size="24.8">j rural stud</text></g>
<g id="mon-labor-rev"><circle class="b" cx="412" cy="701" r="13"/><text class="t" x="411" y="706" font-size="23">mon labor rev</text></g>
<g id="j-bank-financ"><circle class="c" cx="397" cy="244" r="12"/><text class="t" x="398" y="252" font-size="24.5">j bank financ</text></g>
<g id="j-dev-econ"><circle class="b" cx="108" cy="515" r="12"/><text class="t" x="108" y="520" font-size="24.8">j dev econ</text></g>
<g id="econ-dev-cult-change"><circle class="b" cx="122" cy="583" r="12"/><text class="t" x="120" y="589" font-size="22.6">econ dev cult change</text></g>
<g id="j-socio-econ"><circle class="b" cx="428" cy="652" r="12"/><text class="t" x="428" y="658" font-size="22.7">j socio-econ</text></g>
<g id="j-marketing-res"><circle class="y" cx="1186" cy="513" r="12"/><text class="t" x="1185" y="519" font-size="22.5">j marketing res</text></g>
<g id="sociol-perspect"><circle class="r" cx="370" cy="997" r="12"/><text class="t" x="368" y="1015" font-size="20.7">sociol perspect</text></g>
<g id="human-resource-manag"><circle class="g" cx="958" cy="1022" r="12"/><text class="t" x="958" y="1029" font-size="22.6">human resource manag</text></g>
<g id="j-technology-transfe"><circle class="b" cx="493" cy="630" r="11"/><text class="t" x="494" y="635" font-size="21">j technology transfe</text></g>
<g id="financ-manage"><circle class="c" cx="550" cy="43" r="10"/><text class="t" x="500" y="45" font-size="19">financ manage</text></g>
<g id="rev-econ-stud"><circle class="b" cx="158" cy="365" r="10"/><text class="t" x="158" y="368" font-size="22.6">rev econ stud</text></g>
<g id="j-dev-stud"><circle class="b" cx="148" cy="665" r="10"/><text class="t" x="148" y="667" font-size="22.6">j dev stud</text></g>
<g id="strateg-entrep-j"><circle class="y" cx="971" cy="383" r="10"/><text class="t" x="971" y="389" font-size="22">strateg entrep j</text></g>
<g id="lancet"><circle class="r" cx="420" cy="805" r="10"/><text class="t" x="420" y="808" font-size="21.6">lancet</text></g>
<g id="econ-geogr"><circle class="r" cx="170" cy="1012" r="10"/><text class="t" x="168" y="1017" font-size="22.6">econ geogr</text></g>
<g id="environ-plann-a"><circle class="r" cx="205" cy="1080" r="10"/><text class="t" x="190" y="1082" font-size="22.6">environ plann a</text></g>
<g id="prog-hum-geog"><circle class="r" cx="225" cy="1135" r="10"/><text class="t" x="204" y="1142" font-size="22.9">prog hum geog</text></g>
<g id="elgar-orig-ref"><circle class="r" cx="630" cy="1062" r="10"/><text class="t" x="626" y="1067" font-size="22.6">elgar orig ref</text></g>
<g id="pers-indiv-differ"><circle class="g" cx="1283" cy="593" r="10"/><text class="t" x="1286" y="597" font-size="22.4">pers indiv differ</text></g>
<g id="social-learning-theo"><circle class="y" cx="1190" cy="707" r="10"/><text class="t" x="1212" y="709" font-size="18.8">social learning theo</text></g>
<g id="organ-dyn"><circle class="g" cx="1054" cy="903" r="10"/><text class="t" x="1050" y="909" font-size="22.7">organ dyn</text></g>
<g id="career-dev-int"><circle class="g" cx="1080" cy="930" r="10"/><text class="t" x="1078" y="938" font-size="24.8">career dev int</text></g>
<g id="j-bus"><circle class="c" cx="428" cy="276" r="9"/><text class="t" x="427" y="281" font-size="23.5">j bus</text></g>
<g id="j-econ-geogr"><circle class="b" cx="270" cy="683" r="9"/><text class="t" x="220" y="706" font-size="21">j econ geogr</text></g>
<g id="fem-econ"><circle class="r" cx="361" cy="832" r="9"/><text class="t" x="361" y="835" font-size="22.4">fem econ</text></g>
<g id="j-risk-uncertainty"><circle class="b" cx="322" cy="333" r="8"/><text class="t" x="338" y="352" font-size="19">j risk uncertainty</text></g>
<g id="econ-dev-q"><circle class="r" cx="240" cy="852" r="8"/><text class="t" x="241" y="855" font-size="22.5">econ dev q</text></g>
<g id="j-clean-prod"><circle class="r" cx="500" cy="808" r="8"/><text class="t" x="522" y="805" font-size="19">j clean prod</text></g>
<g id="soc-psychol-quart"><circle class="r" cx="650" cy="992" r="8"/><text class="t" x="687" y="996" font-size="22.7">soc psychol quart</text></g>
<g id="women-entrepreneursh"><circle class="r" cx="635" cy="1288" r="8"/><text class="t" x="697" y="1291" font-size="21">women entrepreneursh</text></g>
<g id="j-money-credit-bank"><circle class="b" cx="225" cy="325" r="7"/><text class="t" x="221" y="328" font-size="21">j money credit bank</text></g>
<g id="strategic-management"><circle class="c" cx="808" cy="339" r="7"/><text class="t" x="828" y="351" font-size="21">strategic management</text></g>
<g id="int-j-manpower"><circle class="b" cx="527" cy="597" r="7"/><text class="t" x="526" y="602" font-size="20.6">int j manpower</text></g>
<g id="growth-change"><circle class="r" cx="205" cy="832" r="7"/><text class="t" x="212" y="825" font-size="20.7">growth change</text></g>
<g id="eur-j-dev-res"><circle class="r" cx="477" cy="852" r="7"/><text class="t" x="490" y="837" font-size="21">eur j dev res</text></g>
<g id="t-i-brit-geogr"><circle class="r" cx="220" cy="1165" r="7"/><text class="t" x="218" y="1171" font-size="21">t i brit geogr</text></g>
<g id="j-educ-psychol"><circle class="g" cx="1120" cy="557" r="7"/><text class="t" x="1120" y="563" font-size="21">j educ psychol</text></g>
<g id="j-econometrics"><circle class="b" cx="152" cy="388" r="6"/><text class="t" x="151" y="393" font-size="21">j econometrics</text></g>
<g id="econ-educ-rev"><circle class="b" cx="123" cy="453" r="6"/><text class="t" x="83" y="445" font-size="20.7">econ educ rev</text></g>
<g id="science"><circle class="b" cx="502" cy="500" r="6"/><text class="t" x="501" y="506" font-size="22">science</text></g>
<g id="ind-labor-relat-rev"><circle class="b" cx="258" cy="620" r="6"/><text class="t" x="283" y="635" font-size="21">ind labor relat rev</text></g>
<g id="j-financ-quant-anal"><circle class="c" cx="483" cy="72" r="6"/><text class="t" x="462" y="83" font-size="19">j financ quant anal</text></g>
<g id="corp-gov-oxford"><circle class="c" cx="560" cy="141" r="6"/><text class="t" x="585" y="146" font-size="19">corp gov-oxford</text></g>
<g id="can-j-adm-sci"><circle class="m" cx="585" cy="705" r="6"/><text class="t" x="586" y="713" font-size="21">can j adm sci</text></g>
<g id="int-sociol"><circle class="r" cx="300" cy="1038" r="6"/><text class="t" x="307" y="1043" font-size="18.7">int sociol</text></g>
<g id="j-contemp-bus"><circle class="g" cx="817" cy="1047" r="6"/><text class="t" x="814" y="1067" font-size="21">j contemp bus</text></g>
<g id="female-entrepreneurs"><circle class="m" cx="905" cy="1088" r="6"/><text class="t" x="905" y="1091" font-size="20.8">female entrepreneurs</text></g>
<g id="women-business-persp"><circle class="m" cx="767" cy="1225" r="6"/><text class="t" x="767" y="1231" font-size="21">women business persp</text></g>
<g id="global-womens-entrepreneurshi"><circle class="m" cx="862" cy="1322" r="6"/><text class="t" x="863" y="1328" font-size="21">global women's entrepreneurshi</text></g>
<g id="j-business-entrepren"><circle class="g" cx="1065" cy="485" r="6"/><text class="t" x="1065" y="491" font-size="21.2">j business entrepren</text></g>
<g id="j-small-business-str"><circle class="g" cx="1196" cy="909" r="6"/><text class="t" x="1196" y="914" font-size="19.2">j small business str</text></g>
<g id="j-account-econ"><circle class="c" cx="570" cy="17" r="5"/><text class="t" x="567" y="22" font-size="19">j account econ</text></g>
<g id="int-bus-rev"><circle class="c" cx="707" cy="316" r="5"/><text class="t" x="705" y="321" font-size="20">int bus rev</text></g>
<g id="nature"><circle class="b" cx="440" cy="453" r="5"/><text class="t" x="449" y="453" font-size="21">nature</text></g>
<g id="hdb-org"><circle class="c" cx="543" cy="682" r="5"/><text class="t" x="541" y="687" font-size="20.5">hdb org</text></g>
<g id="ethnic-enterprise-am"><circle class="r" cx="165" cy="983" r="5"/><text class="t" x="166" y="987" font-size="21">ethnic enterprise am</text></g>
<g id="hdb-qualitative-res"><circle class="r" cx="580" cy="1160" r="5"/><text class="t" x="562" y="1167" font-size="20.8">hdb qualitative res</text></g>
<g id="masculinities"><circle class="r" cx="375" cy="1245" r="5"/><text class="t" x="381" y="1248" font-size="21.4">masculinities</text></g>
<g id="men-managers-manager"><circle class="r" cx="458" cy="1275" r="5"/><text class="t" x="462" y="1280" font-size="20.8">men managers manager</text></g>
<g id="int-j-hum-resour-man"><circle class="m" cx="801" cy="815" r="5"/><text class="t" x="915" y="818" font-size="21">int j hum resour man</text></g>
<g id="women-entrepreneurs-and-the-gl"><circle class="m" cx="800" cy="1365" r="5"/><text class="t" x="798" y="1370" font-size="21">women entrepreneurs and the gl</text></g>
<g id="j-res-pers"><circle class="g" cx="1224" cy="618" r="5"/><text class="t" x="1224" y="623" font-size="19">j res pers</text></g>
<g id="j-career-dev"><circle class="g" cx="1432" cy="748" r="5"/><text class="t" x="1431" y="752" font-size="20.8">j career dev</text></g>
<g id="j-bus-psychol"><circle class="g" cx="1455" cy="772" r="5"/><text class="t" x="1457" y="777" font-size="21">j bus psychol</text></g>
<g id="j-occup-health-psych"><circle class="g" cx="1298" cy="850" r="5"/><text class="t" x="1365" y="854" font-size="19">j occup health psych</text></g>
<g id="j-manage-psychol"><circle class="g" cx="1350" cy="875" r="5"/><text class="t" x="1351" y="878" font-size="21">j manage psychol</text></g>
<g id="human-capital-theore"><circle class="r" cx="593" cy="740" r="4"/><text class="t" x="590" y="745" font-size="18.7">human capital theore</text></g>
<g id="j-retailing"><circle class="y" cx="1283" cy="548" r="4"/><text class="t" x="1281" y="552" font-size="18.6">j retailing</text></g>
<g id="psychol-entrepreneur"><circle class="g" cx="1210" cy="682" r="4"/><text class="t" x="1206" y="685" font-size="18.75">psychol entrepreneur</text></g>
<g id="structural-equation"><circle class="g" cx="1275" cy="768" r="4"/><text class="t" x="1279" y="773" font-size="18.8">structural equation</text></g>
</svg>
